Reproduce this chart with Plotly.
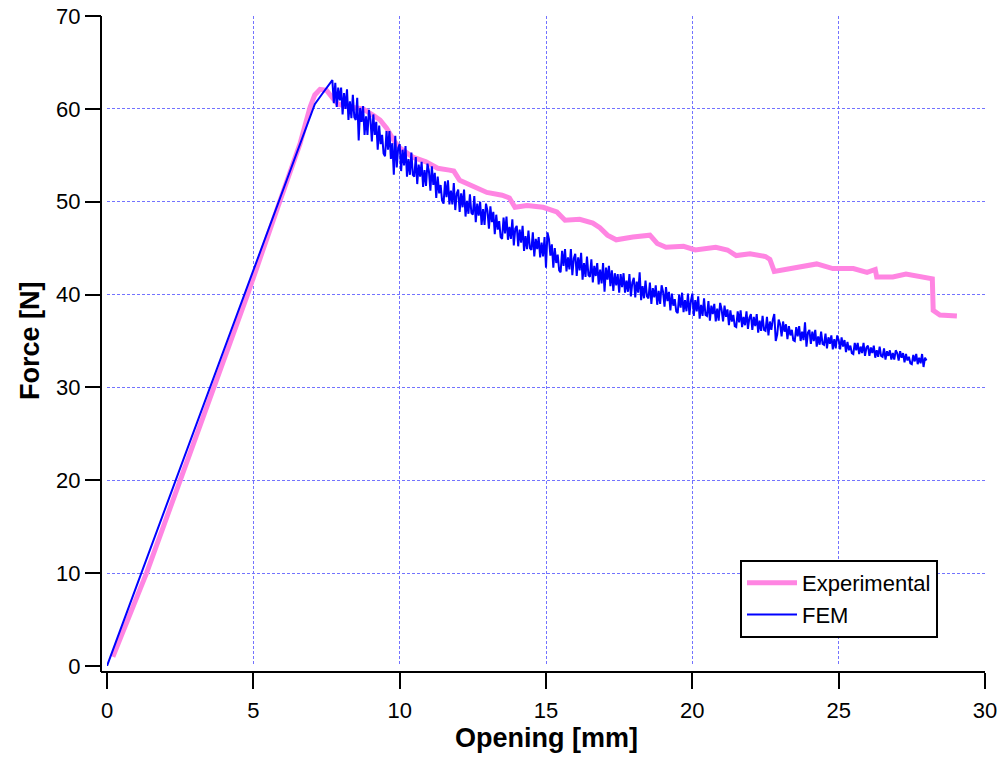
import plotly.graph_objects as go

# ---------------- data ----------------
EXP_X = [0.2, 1.35, 2.5, 3.65, 4.8, 5.9, 6.6, 6.94, 7.1, 7.28, 7.5, 7.7, 7.9, 8.3, 8.75,
         9.1, 9.33, 9.56, 9.8, 10.0, 10.45, 10.9, 11.3, 11.7, 11.85, 12.05, 12.5, 12.98,
         13.5, 13.75, 13.94, 14.35, 14.9, 15.37, 15.65, 16.15, 16.6, 16.84, 17.1, 17.4,
         17.97, 18.55, 18.8, 19.1, 19.7, 20.1, 20.8, 21.2, 21.5, 21.97, 22.5, 22.65, 22.8,
         23.4, 24.25, 24.8, 25.5, 25.97, 26.25, 26.3, 26.85, 27.3, 28.2, 28.23, 28.46, 29.04]
EXP_Y = [1.0, 10.0, 20.0, 30.0, 40.0, 50.0, 56.3, 60.2, 61.5, 62.1, 62.0, 61.2, 60.5, 60.2, 60.0,
         59.3, 58.8, 57.9, 56.6, 55.8, 54.8, 54.3, 53.6, 53.4, 53.3, 52.3, 51.6, 51.0,
         50.7, 50.4, 49.4, 49.6, 49.4, 48.9, 48.0, 48.1, 47.7, 47.2, 46.4, 45.9,
         46.2, 46.4, 45.5, 45.1, 45.2, 44.8, 45.1, 44.8, 44.2, 44.4, 44.1, 43.8, 42.5,
         42.8, 43.3, 42.8, 42.8, 42.4, 42.7, 41.9, 41.9, 42.2, 41.7, 38.3, 37.8, 37.7]

FEM_X = [0.0, 7.10, 7.35, 7.60,
         7.70, 7.75, 7.80, 7.85, 7.90, 7.95,
         8.00, 8.05, 8.10, 8.15, 8.20, 8.25, 8.30, 8.35, 8.40, 8.45,
         8.50, 8.55, 8.60, 8.65, 8.70, 8.75, 8.80, 8.85, 8.90, 8.95,
         9.00, 9.05, 9.10, 9.15, 9.20, 9.25, 9.30, 9.35, 9.40, 9.45,
         9.50, 9.55, 9.60, 9.65, 9.70, 9.75, 9.80, 9.85, 9.90, 9.95,
         10.00, 10.05, 10.10, 10.15, 10.20, 10.25, 10.30, 10.35, 10.40, 10.45,
         10.50, 10.55, 10.60, 10.65, 10.70, 10.75, 10.80, 10.85, 10.90, 10.95,
         11.00, 11.05, 11.10, 11.15, 11.20, 11.25, 11.30, 11.35, 11.40, 11.45,
         11.50, 11.55, 11.60, 11.65, 11.70, 11.75, 11.80, 11.85, 11.90, 11.95,
         12.00, 12.05, 12.10, 12.15, 12.20, 12.25, 12.30, 12.35, 12.40, 12.45,
         12.50, 12.55, 12.60, 12.65, 12.70, 12.75, 12.80, 12.85, 12.90, 12.95,
         13.00, 13.05, 13.10, 13.15, 13.20, 13.25, 13.30, 13.35, 13.40, 13.45,
         13.50, 13.55, 13.60, 13.65, 13.70, 13.75, 13.80, 13.85, 13.90, 13.95,
         14.00, 14.05, 14.10, 14.15, 14.20, 14.25, 14.30, 14.35, 14.40, 14.45,
         14.50, 14.55, 14.60, 14.65, 14.70, 14.75, 14.80, 14.85, 14.90, 14.95,
         15.00, 15.05, 15.10, 15.15, 15.20, 15.25, 15.30, 15.35, 15.40, 15.45,
         15.50, 15.55, 15.60, 15.65, 15.70, 15.75, 15.80, 15.85, 15.90, 15.95,
         16.00, 16.05, 16.10, 16.15, 16.20, 16.25, 16.30, 16.35, 16.40, 16.45,
         16.50, 16.55, 16.60, 16.65, 16.70, 16.75, 16.80, 16.85, 16.90, 16.95,
         17.00, 17.05, 17.10, 17.15, 17.20, 17.25, 17.30, 17.35, 17.40, 17.45,
         17.50, 17.55, 17.60, 17.65, 17.70, 17.75, 17.80, 17.85, 17.90, 17.95,
         18.00, 18.05, 18.10, 18.15, 18.20, 18.25, 18.30, 18.35, 18.40, 18.45,
         18.50, 18.55, 18.60, 18.65, 18.70, 18.75, 18.80, 18.85, 18.90, 18.95,
         19.00, 19.05, 19.10, 19.15, 19.20, 19.25, 19.30, 19.35, 19.40, 19.45,
         19.50, 19.55, 19.60, 19.65, 19.70, 19.75, 19.80, 19.85, 19.90, 19.95,
         20.00, 20.05, 20.10, 20.15, 20.20, 20.25, 20.30, 20.35, 20.40, 20.45,
         20.50, 20.55, 20.60, 20.65, 20.70, 20.75, 20.80, 20.85, 20.90, 20.95,
         21.00, 21.05, 21.10, 21.15, 21.20, 21.25, 21.30, 21.35, 21.40, 21.45,
         21.50, 21.55, 21.60, 21.65, 21.70, 21.75, 21.80, 21.85, 21.90, 21.95,
         22.00, 22.05, 22.10, 22.15, 22.20, 22.25, 22.30, 22.35, 22.40, 22.45,
         22.50, 22.55, 22.60, 22.65, 22.70, 22.75, 22.80, 22.85, 22.90, 22.95,
         23.00, 23.05, 23.10, 23.15, 23.20, 23.25, 23.30, 23.35, 23.40, 23.45,
         23.50, 23.55, 23.60, 23.65, 23.70, 23.75, 23.80, 23.85, 23.90, 23.95,
         24.00, 24.05, 24.10, 24.15, 24.20, 24.25, 24.30, 24.35, 24.40, 24.45,
         24.50, 24.55, 24.60, 24.65, 24.70, 24.75, 24.80, 24.85, 24.90, 24.95,
         25.00, 25.05, 25.10, 25.15, 25.20, 25.25, 25.30, 25.35, 25.40, 25.45,
         25.50, 25.55, 25.60, 25.65, 25.70, 25.75, 25.80, 25.85, 25.90, 25.95,
         26.00, 26.05, 26.10, 26.15, 26.20, 26.25, 26.30, 26.35, 26.40, 26.45,
         26.50, 26.55, 26.60, 26.65, 26.70, 26.75, 26.80, 26.85, 26.90, 26.95,
         27.00, 27.05, 27.10, 27.15, 27.20, 27.25, 27.30, 27.35, 27.40, 27.45,
         27.50, 27.55, 27.60, 27.65, 27.70, 27.75, 27.80, 27.85, 27.90, 27.95,
         28.00]
FEM_Y = [0.0, 60.5, 61.6, 62.6,
         63.1, 60.6, 62.8, 60.2, 62.3, 60.9,
         62.3, 59.4, 61.7, 60.0, 62.1, 58.8, 60.8, 59.0, 61.5, 59.1,
         58.8, 61.2, 56.6, 60.1, 58.6, 60.3, 57.2, 59.2, 57.2, 59.9,
         58.9, 56.5, 59.4, 57.2, 58.6, 55.6, 58.2, 56.2, 57.2, 55.2,
         54.9, 57.6, 55.6, 57.6, 54.6, 56.3, 52.9, 57.1, 53.7, 55.8,
         56.2, 53.3, 55.6, 53.9, 56.0, 52.7, 54.6, 52.9, 55.3, 52.9,
         52.7, 54.8, 51.9, 54.0, 52.7, 54.3, 51.6, 53.4, 51.7, 54.1,
         53.3, 51.2, 53.8, 51.8, 53.1, 50.4, 52.7, 50.9, 51.8, 50.1,
         49.8, 52.2, 50.5, 52.3, 49.7, 51.2, 49.7, 52.0, 49.1, 50.9,
         51.3, 48.9, 50.9, 49.4, 51.3, 48.4, 50.1, 48.7, 50.8, 48.8,
         48.6, 50.6, 47.8, 49.8, 48.5, 50.0, 47.5, 49.2, 47.5, 49.8,
         49.0, 47.1, 49.5, 47.8, 48.9, 46.5, 48.6, 47.0, 47.9, 46.2,
         46.0, 48.3, 46.6, 48.4, 45.9, 47.3, 46.0, 48.1, 45.3, 47.1,
         47.4, 45.2, 47.0, 45.6, 47.4, 44.7, 46.3, 44.9, 46.9, 45.0,
         44.8, 46.7, 44.1, 46.0, 44.9, 46.2, 44.0, 45.6, 44.1, 46.2,
         42.9, 46.7, 46.0, 44.2, 45.4, 42.9, 45.0, 43.4, 44.3, 42.6,
         42.4, 44.7, 43.1, 44.9, 42.5, 44.0, 42.7, 44.9, 42.1, 43.9,
         44.4, 42.0, 44.0, 42.6, 44.5, 41.6, 43.4, 41.9, 44.1, 42.1,
         41.9, 43.8, 41.3, 43.1, 42.0, 43.4, 41.1, 42.7, 41.2, 43.4,
         40.3, 42.9, 41.6, 43.1, 40.9, 42.6, 40.4, 42.3, 41.0, 42.2,
         40.2, 42.2, 40.8, 42.3, 40.2, 41.5, 40.3, 42.2, 39.8, 41.3,
         41.8, 39.7, 41.4, 40.2, 42.4, 39.4, 40.9, 39.6, 41.5, 39.8,
         39.6, 41.3, 39.0, 40.7, 39.7, 41.0, 38.9, 40.4, 39.0, 41.0,
         40.3, 38.7, 40.8, 39.3, 40.3, 38.3, 40.1, 38.8, 39.5, 38.2,
         38.0, 40.0, 38.6, 40.2, 38.1, 39.4, 38.2, 40.1, 37.8, 39.3,
         40.1, 37.7, 39.4, 38.2, 39.8, 37.4, 38.9, 37.7, 39.6, 37.8,
         37.7, 39.3, 37.2, 38.8, 37.9, 39.0, 37.1, 38.5, 37.2, 39.1,
         38.4, 37.1, 38.8, 37.6, 38.4, 36.7, 38.3, 37.1, 37.8, 36.6,
         36.5, 38.2, 37.0, 38.3, 36.5, 37.6, 36.7, 38.2, 36.3, 37.5,
         37.9, 36.2, 37.6, 36.6, 37.9, 35.9, 37.2, 36.1, 37.7, 36.2,
         36.1, 37.6, 35.6, 37.1, 36.2, 37.3, 37.9, 35.0, 35.7, 37.3,
         36.8, 35.5, 37.1, 36.0, 36.8, 35.2, 36.6, 35.6, 36.2, 35.1,
         35.0, 36.5, 35.5, 36.6, 35.0, 36.0, 35.1, 37.0, 34.4, 35.9,
         36.2, 34.7, 36.0, 35.0, 36.2, 34.4, 35.5, 34.6, 36.0, 34.7,
         34.6, 35.8, 34.2, 35.4, 34.7, 35.6, 34.1, 35.2, 34.2, 35.6,
         35.1, 34.1, 35.4, 34.4, 35.1, 33.8, 34.9, 34.0, 34.5, 33.7,
         33.6, 34.8, 34.0, 34.8, 33.6, 34.4, 33.7, 34.8, 33.4, 34.3,
         34.5, 33.4, 34.3, 33.7, 34.5, 33.2, 34.0, 33.3, 34.4, 33.4,
         33.3, 34.2, 33.0, 33.9, 33.4, 34.0, 33.0, 33.7, 33.0, 34.0,
         33.7, 32.9, 33.9, 33.2, 33.7, 32.7, 33.6, 32.9, 33.3, 32.6,
         32.5, 33.5, 32.8, 33.6, 32.5, 33.2, 32.6, 33.6, 32.2, 33.2,
         32.9]

X_TICKS = [0, 5, 10, 15, 20, 25, 30]
Y_TICKS = [0, 10, 20, 30, 40, 50, 60, 70]
X_TITLE = "Opening [mm]"
Y_TITLE = "Force [N]"

# ---------------- layout constants ----------------
W, H = 1002, 758
ML, MR, MT, MB = 101, 17, 16, 86
PW = W - ML - MR
PH = H - MT - MB
OFF = 6  # gap between axis lines and data area
FONT = "Liberation Sans, Arial, sans-serif"

fig = go.Figure()
fig.add_trace(go.Scatter(x=EXP_X, y=EXP_Y, mode="lines", name="Experimental",
                         line=dict(color="#ff85e2", width=5)))
fig.add_trace(go.Scatter(x=FEM_X, y=FEM_Y, mode="lines", name="FEM",
                         line=dict(color="#0000ff", width=2)))

common = dict(showgrid=True, gridcolor="rgb(115,115,255)", gridwidth=1, griddash="3px,2px",
              zeroline=False, showline=False, ticks="outside", ticklen=16, tickwidth=2,
              tickcolor="black", tickfont=dict(family=FONT, size=22, color="black"),
              anchor="free", position=0, automargin=False)

fig.update_layout(
    width=W, height=H,
    margin=dict(l=ML, r=MR, t=MT, b=MB, autoexpand=False),
    paper_bgcolor="white", plot_bgcolor="white",
    xaxis=dict(range=[0, 30], domain=[OFF / PW, 1], tickvals=X_TICKS,
               ticklabelstandoff=3, **common),
    yaxis=dict(range=[0, 70], domain=[OFF / PH, 1], tickvals=Y_TICKS, **common),
    showlegend=True,
    legend=dict(x=(740 - ML) / PW, y=(H - MB - 599) / PH, xanchor="left", yanchor="middle",
                bordercolor="black", borderwidth=2, bgcolor="white", itemwidth=50,
                font=dict(family=FONT, size=22, color="black"), tracegroupgap=0),
    shapes=[
        dict(type="line", xref="paper", yref="paper", x0=0, x1=1, y0=0, y1=0,
             line=dict(color="black", width=2)),
        dict(type="line", xref="paper", yref="paper", x0=0, x1=0, y0=0, y1=1,
             line=dict(color="black", width=2)),
    ],
    annotations=[
        dict(text="<b>" + X_TITLE + "</b>", xref="paper", yref="paper",
             x=((107 + 985) / 2 - ML) / PW, y=(H - MB - 738) / PH,
             xanchor="center", yanchor="middle", showarrow=False,
             font=dict(family=FONT, size=27, color="black")),
        dict(text="<b>" + Y_TITLE + "</b>", xref="paper", yref="paper",
             x=(30 - ML) / PW, y=(H - MB - 341) / PH, textangle=-90,
             xanchor="center", yanchor="middle", showarrow=False,
             font=dict(family=FONT, size=27, color="black")),
    ],
)

fig.write_html("out.html")
